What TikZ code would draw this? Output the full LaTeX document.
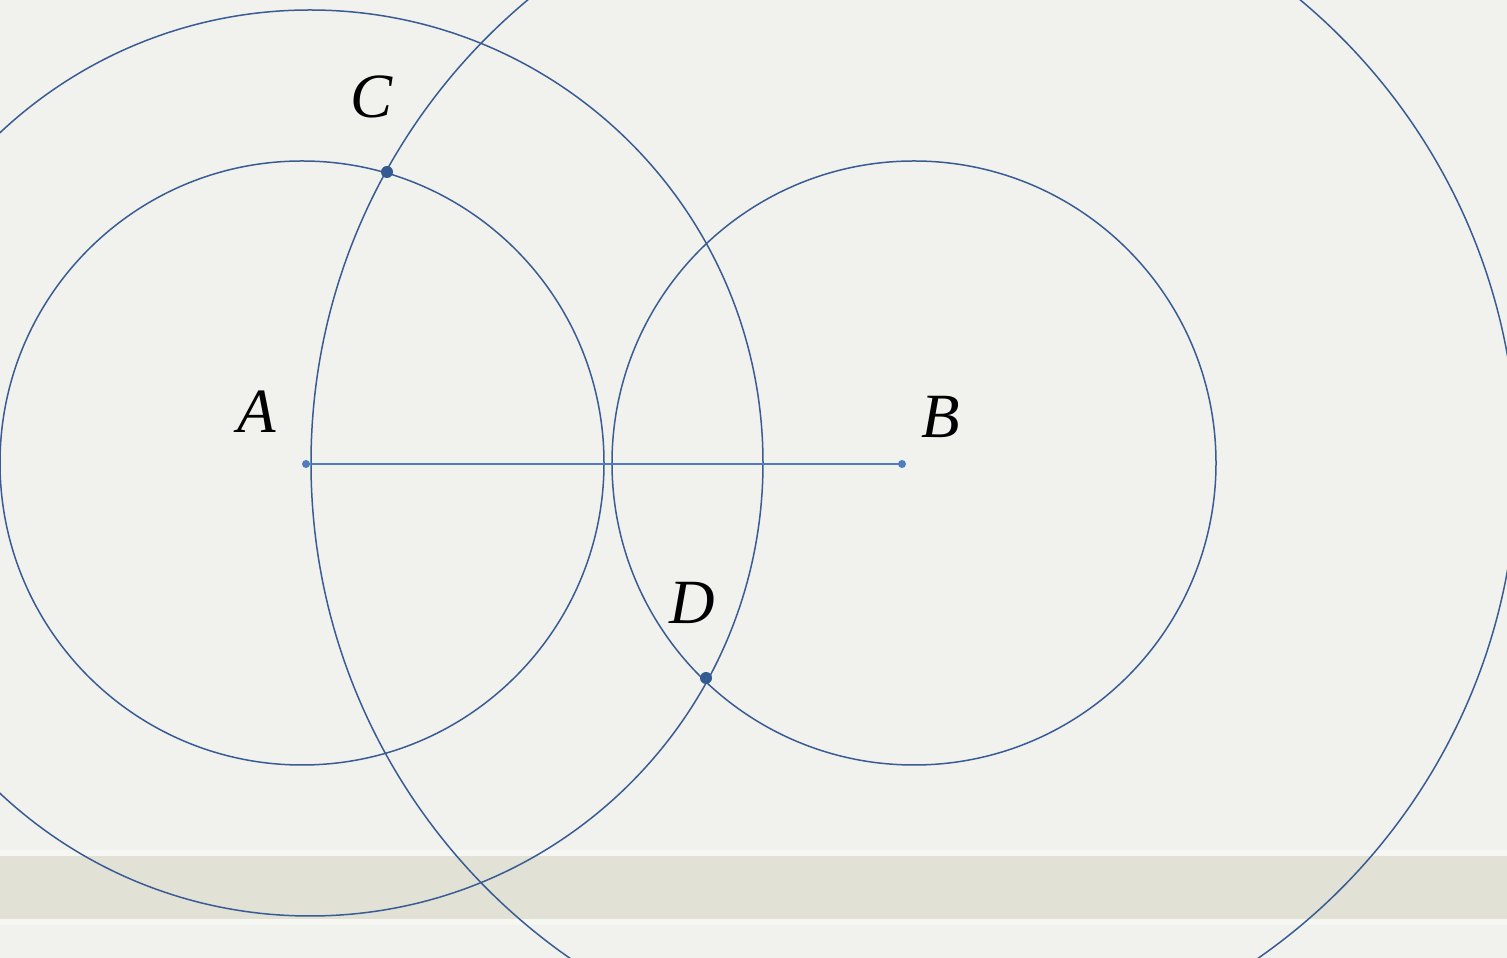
\documentclass[tikz,border=0pt]{standalone}
\usepackage{fontspec}
\newfontfamily\lblfont{Liberation Serif}
\definecolor{bgc}{HTML}{F1F1ED}
\definecolor{bandc}{HTML}{E1E1D6}
\definecolor{bandl}{HTML}{F6F6F3}
\definecolor{circc}{HTML}{3A5C94}
\definecolor{segc}{HTML}{4D7DC0}
\definecolor{dotc}{HTML}{345A92}
\tikzset{
  circ/.style={draw=circc, line width=1.5pt},
  seg/.style={draw=segc, line width=1.9pt},
  bigdot/.style={circle, fill=dotc, inner sep=0pt, minimum size=12pt},
  smalldot/.style={circle, fill=segc, inner sep=0pt, minimum size=8pt},
  lbl/.style={font=\lblfont\itshape\fontsize{63}{70}\selectfont, text=black}
}
\begin{document}
\begin{tikzpicture}[x=1pt,y=1pt]
\useasboundingbox (0,0) rectangle (1507,958);
\fill[bgc] (0,0) rectangle (1507,958);
\fill[bandl] (0,33) rectangle (1507,108);
\fill[bandc] (0,39) rectangle (1507,102);
\begin{scope}
\clip (0,0) rectangle (1507,958);
\draw[circ] (302,495) circle (302);
\draw[circ] (914,495) circle (302);
\draw[circ] (310,495) circle (453);
\draw[circ] (914,495) circle (603);
\end{scope}
\node[smalldot] (A) at (306,494) {};
\node[smalldot] (B) at (902,494) {};
\draw[seg] (A.center) -- (B.center);
\node[bigdot] (C) at (387,786) {};
\node[bigdot] (D) at (706,280) {};
\node[lbl] (lA) at (257,546) {A};
\node[lbl] (lB) at (941,541) {B};
\node[lbl] (lC) at (372,861) {C};
\node[lbl] (lD) at (692,355) {D};
\end{tikzpicture}
\end{document}
